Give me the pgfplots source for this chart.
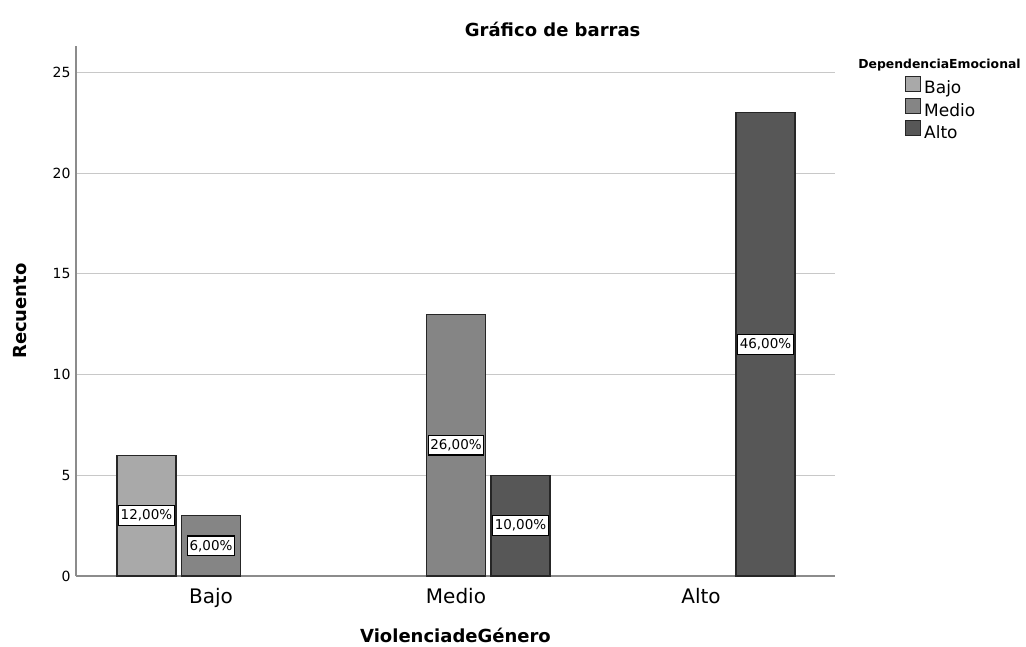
\documentclass[border=0pt]{standalone}
\usepackage{fontspec}
\setmainfont{DejaVu Sans}
\usepackage{pgfplots}
\pgfplotsset{compat=1.18}
\definecolor{cBajo}{HTML}{A9A9A9}
\definecolor{cMedio}{HTML}{858585}
\definecolor{cAlto}{HTML}{575757}
\definecolor{gridc}{HTML}{C8C8C8}
\definecolor{axc}{HTML}{8C8C8C}
\begin{document}
\begin{tikzpicture}[x=1pt,y=1pt]
\begin{axis}[
  at={(76pt,70pt)}, anchor=south west,
  scale only axis, width=759pt, height=530pt,
  xmin=-0.551, xmax=2.547, ymin=0, ymax=26.32,
  ybar, bar width=59pt,
  axis x line*=bottom, axis y line*=left,
  axis line style={-, draw=axc, line width=1.3pt},
  ymajorgrids, grid style={draw=gridc, line width=1pt},
  major tick length=0pt,
  xtick={0,1,2}, xticklabels={Bajo,Medio,Alto},
  ytick={0,5,10,15,20,25},
  /pgf/number format/assume math mode=true,
  xticklabel style={font=\fontsize{20}{23}\selectfont, yshift=-9pt},
  yticklabel style={font=\fontsize{14}{16}\selectfont, xshift=-2pt},
  xlabel={\bfseries ViolenciadeGénero},
  xlabel style={at={(axis description cs:0.5,-0.1113)}, anchor=center, font=\fontsize{18}{21}\selectfont},
  ylabel={\bfseries Recuento},
  ylabel style={at={(axis description cs:-0.0738,0.5)}, anchor=center, rotate=0, font=\fontsize{18}{21}\selectfont},
  clip=false,
  legend style={at={(rel axis cs:1.0922,0.9437)}, anchor=north west, draw=none, fill=none,
    inner sep=0pt, outer sep=0pt, row sep=0pt, column sep=3pt,
    font=\fontsize{17}{19}\selectfont,
    nodes={inner sep=0pt, text height=13pt, text depth=4pt}},
  legend cell align=left,
  legend image code/.code={\draw[#1, line width=1.2pt] (0pt,-2pt) rectangle (15pt,13pt);},
]
\addplot[fill=cBajo, draw=black!85, line width=1.2pt, bar shift=-64.5pt] coordinates {(0,6)};
\addplot[fill=cMedio, draw=black!85, line width=1.2pt, bar shift=0pt] coordinates {(0,3) (1,13)};
\addplot[fill=cAlto, draw=black!85, line width=1.2pt, bar shift=64.5pt] coordinates {(1,5) (2,23)};
\legend{Bajo,Medio,Alto}
\addplot[forget plot, only marks, mark=none, draw=none, fill=none, bar shift=0pt,
  nodes near coords={\pgfplotspointmeta\%},
  point meta=explicit symbolic,
  every node near coord/.append style={anchor=center, fill=white, draw=black, line width=1.2pt,
    inner xsep=2pt, inner ysep=4pt, font=\fontsize{13.5}{15}\selectfont, yshift=0pt}]
  table[x=x, y=y, meta=lab] {
x y lab
-0.2633 3 12,00
0 1.5 6,00
1 6.5 26,00
1.2633 2.5 10,00
2.2633 11.5 46,00
};
\node[font=\fontsize{18}{21}\selectfont\bfseries, anchor=center] at (rel axis cs:0.628,1.032) {Gráfico de barras};
\node[font=\fontsize{12.4}{14}\selectfont\bfseries, anchor=center] at (rel axis cs:1.1377,0.9642) {DependenciaEmocional};
\end{axis}
\pgfresetboundingbox
\path[use as bounding box] (0,0) rectangle (1026,646);
\end{tikzpicture}
\end{document}
